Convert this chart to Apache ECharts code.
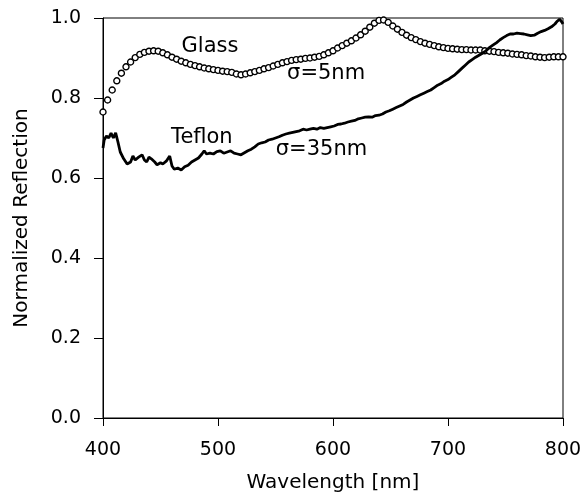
<!DOCTYPE html>
<html>
<head>
<meta charset="utf-8">
<script src="https://cdn.jsdelivr.net/npm/echarts@6/dist/echarts.min.js"></script>
<style>
  html, body { margin: 0; padding: 0; background: #fff; }
  #chart { width: 587px; height: 494px; }
</style>
</head>
<body>
<div id="chart"></div>
<script>
// tick labels
var xTicks = [400, 500, 600, 700, 800];
var yTicks = [0.0, 0.2, 0.4, 0.6, 0.8, 1.0];

// Glass (sigma=5nm), every 4 nm
var glassData = [
    [400, 0.765], [404, 0.795], [408, 0.820], [412, 0.843], [416, 0.862], [420, 0.878],
    [424, 0.890], [428, 0.901], [432, 0.909], [436, 0.914], [440, 0.917], [444, 0.918],
    [448, 0.917], [452, 0.913], [456, 0.908], [460, 0.902], [464, 0.897], [468, 0.892],
    [472, 0.888], [476, 0.884], [480, 0.881], [484, 0.878], [488, 0.875], [492, 0.873],
    [496, 0.871], [500, 0.869], [504, 0.867], [508, 0.866], [512, 0.864], [516, 0.860],
    [520, 0.858], [524, 0.860], [528, 0.863], [532, 0.866], [536, 0.869], [540, 0.873],
    [544, 0.876], [548, 0.880], [552, 0.884], [556, 0.888], [560, 0.891], [564, 0.894],
    [568, 0.896], [572, 0.897], [576, 0.899], [580, 0.900], [584, 0.902], [588, 0.904],
    [592, 0.908], [596, 0.913], [600, 0.918], [604, 0.925], [608, 0.931], [612, 0.937],
    [616, 0.943], [620, 0.950], [624, 0.958], [628, 0.967], [632, 0.977], [636, 0.987],
    [640, 0.994], [644, 0.995], [648, 0.989], [652, 0.980], [656, 0.972], [660, 0.964],
    [664, 0.957], [668, 0.951], [672, 0.946], [676, 0.941], [680, 0.937], [684, 0.934],
    [688, 0.931], [692, 0.928], [696, 0.926], [700, 0.924], [704, 0.923], [708, 0.922],
    [712, 0.921], [716, 0.921], [720, 0.920], [724, 0.920], [728, 0.920], [732, 0.918],
    [736, 0.917], [740, 0.916], [744, 0.914], [748, 0.913], [752, 0.912], [756, 0.910],
    [760, 0.909], [764, 0.908], [768, 0.906], [772, 0.905], [776, 0.903], [780, 0.902],
    [784, 0.901], [788, 0.902], [792, 0.903], [796, 0.903], [800, 0.903]
];

// Teflon (sigma=35nm)
var teflonData = [
    [400, 0.675], [401, 0.695], [403, 0.705], [405, 0.700], [407, 0.712], [409, 0.700],
    [411, 0.713], [413, 0.690], [415, 0.665], [418, 0.648], [421, 0.635], [424, 0.640],
    [426, 0.655], [428, 0.645], [431, 0.652], [434, 0.658], [436, 0.645], [438, 0.640],
    [440, 0.652], [442, 0.648], [445, 0.640], [447, 0.633], [450, 0.638], [452, 0.635],
    [455, 0.642], [458, 0.655], [460, 0.630], [462, 0.622], [465, 0.625], [468, 0.620],
    [471, 0.628], [474, 0.632], [477, 0.640], [480, 0.645], [483, 0.650], [486, 0.660],
    [488, 0.668], [490, 0.660], [493, 0.662], [496, 0.660], [499, 0.666], [502, 0.668],
    [505, 0.662], [508, 0.665], [511, 0.668], [514, 0.662], [517, 0.660], [520, 0.658],
    [523, 0.663], [526, 0.668], [529, 0.672], [532, 0.678], [535, 0.685], [538, 0.688],
    [541, 0.690], [544, 0.695], [547, 0.697], [550, 0.700], [553, 0.703], [556, 0.707],
    [559, 0.710], [562, 0.712], [565, 0.714], [568, 0.716], [571, 0.718], [574, 0.722],
    [577, 0.720], [580, 0.722], [583, 0.724], [586, 0.722], [589, 0.726], [592, 0.724],
    [595, 0.726], [598, 0.728], [601, 0.730], [604, 0.734], [607, 0.735], [610, 0.737],
    [613, 0.740], [616, 0.742], [619, 0.744], [622, 0.748], [625, 0.750], [628, 0.752],
    [631, 0.753], [634, 0.752], [637, 0.756], [640, 0.757], [643, 0.760], [646, 0.765],
    [649, 0.768], [652, 0.772], [655, 0.776], [658, 0.780], [661, 0.784], [664, 0.790],
    [667, 0.795], [670, 0.800], [673, 0.804], [676, 0.808], [679, 0.812], [682, 0.816],
    [685, 0.820], [688, 0.826], [691, 0.832], [694, 0.836], [697, 0.842], [700, 0.846],
    [703, 0.852], [706, 0.858], [709, 0.866], [712, 0.874], [715, 0.882], [718, 0.890],
    [721, 0.896], [724, 0.902], [727, 0.907], [730, 0.912], [733, 0.918], [736, 0.926],
    [739, 0.932], [742, 0.938], [745, 0.945], [748, 0.951], [751, 0.956], [754, 0.960],
    [757, 0.960], [760, 0.962], [763, 0.961], [766, 0.960], [769, 0.958], [772, 0.956],
    [775, 0.957], [778, 0.962], [781, 0.966], [784, 0.969], [787, 0.973], [790, 0.978],
    [793, 0.985], [795, 0.992], [797, 0.997], [799, 0.990], [800, 0.985]
];

// in-plot annotations [x, y, text]
var notes = [
    [493, 0.928, 'Glass'],
    [594, 0.860, 'σ=5nm'],
    [486, 0.702, 'Teflon'],
    [590, 0.670, 'σ=35nm']
];

var font = 'DejaVu Sans';
var myChart = echarts.init(document.getElementById('chart'));

var option = {
    backgroundColor: '#fff',
    animation: false,
    grid: {
        left: 103, right: 24, top: 18, bottom: 76,
        outerBoundsMode: 'none',
        containLabel: false,
        show: true, borderColor: '#000', borderWidth: 1, backgroundColor: 'transparent'
    },
    xAxis: {
        type: 'value',
        min: xTicks[0], max: xTicks[xTicks.length - 1], interval: 100,
        name: 'Wavelength [nm]',
        nameLocation: 'middle', nameGap: 55,
        nameTextStyle: { color: '#000', fontFamily: font, fontSize: 20 },
        axisLine: { show: true, lineStyle: { color: '#000', width: 1 } },
        axisTick: { show: true, length: 8, lineStyle: { color: '#000' } },
        axisLabel: { color: '#000', fontFamily: font, fontSize: 19, margin: 23 },
        splitLine: { show: false }
    },
    yAxis: {
        type: 'value',
        min: yTicks[0], max: yTicks[yTicks.length - 1], interval: 0.2,
        name: 'Normalized Reflection',
        nameLocation: 'middle', nameGap: 71,
        nameTextStyle: { color: '#000', fontFamily: font, fontSize: 20 },
        axisLine: { show: true, lineStyle: { color: '#000', width: 1 } },
        axisTick: { show: true, length: 9, lineStyle: { color: '#000' } },
        axisLabel: {
            color: '#000', fontFamily: font, fontSize: 19, margin: 22,
            formatter: function (v) { return v.toFixed(1); }
        },
        splitLine: { show: false }
    },
    series: [
        {
            name: 'Glass',
            type: 'line',
            data: glassData,
            symbol: 'circle',
            symbolSize: 6,
            showSymbol: true,
            showAllSymbol: true,
            itemStyle: { color: '#fff', borderColor: '#000', borderWidth: 1.4 },
            lineStyle: { width: 0 },
            z: 3
        },
        {
            name: 'Teflon',
            type: 'line',
            data: teflonData,
            showSymbol: false,
            lineStyle: { color: '#000', width: 2.8 },
            z: 4
        },
        {
            name: 'notes',
            type: 'scatter',
            data: notes.map(function (n) { return { value: [n[0], n[1]], name: n[2] }; }),
            symbolSize: 1,
            itemStyle: { opacity: 0 },
            silent: true,
            label: {
                show: true,
                position: 'inside',
                formatter: function (p) { return p.name; },
                color: '#000',
                opacity: 1,
                textBorderWidth: 0,
                fontFamily: font,
                fontSize: 21
            },
            z: 5
        }
    ]
};

myChart.setOption(option);
</script>
</body>
</html>
